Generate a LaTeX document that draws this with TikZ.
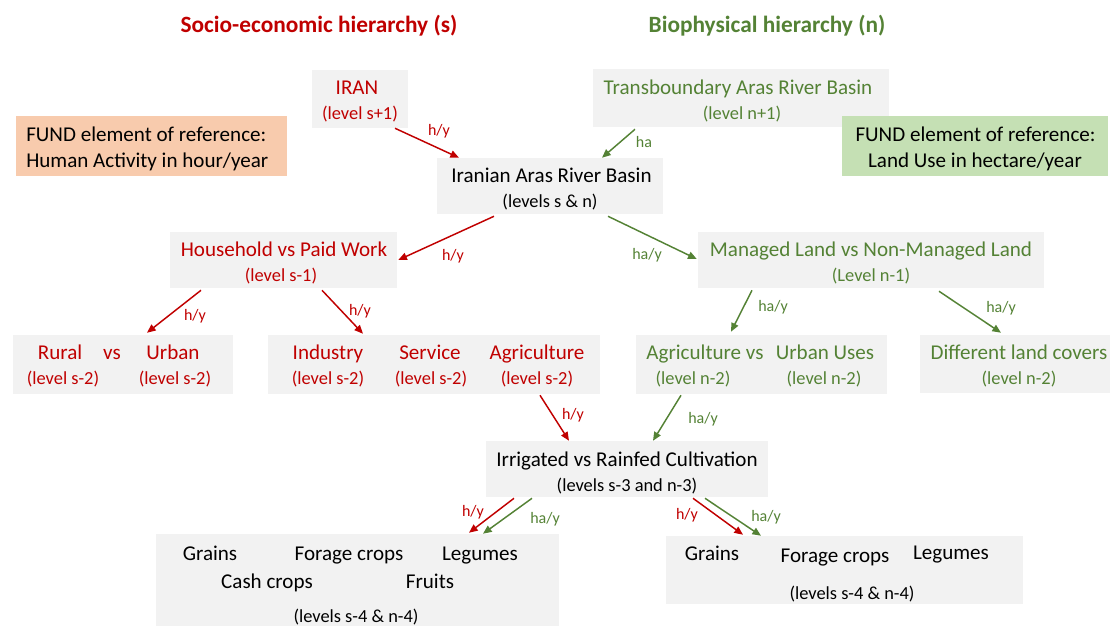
\documentclass[tikz,border=0pt]{standalone}
\usepackage{fontspec}
\setmainfont{Carlito}
\usetikzlibrary{calc,arrows.meta}
\definecolor{rd}{HTML}{C00000}
\definecolor{gn}{HTML}{548235}
\definecolor{boxgray}{HTML}{F2F2F2}
\definecolor{fundor}{HTML}{F8CBAD}
\definecolor{fundgn}{HTML}{C5E0B4}
\begin{document}
\begin{tikzpicture}[x=0.75pt,y=-0.75pt,
  box/.style 2 args={fill=boxgray,draw=none,inner sep=0pt,minimum width=#1*0.75pt,minimum height=#2*0.75pt},
  txt/.style={inner sep=0pt,text height=0.64em,text depth=0pt,yshift=-2.25pt,font=\fontsize{15.8}{18}\selectfont},
  lvl/.style={inner sep=0pt,text height=0.64em,text depth=0pt,yshift=-2.25pt,font=\fontsize{13.8}{16}\selectfont},
  lab/.style={inner sep=0pt,text height=0.64em,text depth=0pt,yshift=-1.5pt,font=\fontsize{12}{14}\selectfont},
  ttl/.style={inner sep=0pt,text height=0.64em,text depth=0pt,yshift=-3pt,font=\fontsize{17.5}{20}\selectfont\bfseries},
  arr/.style={line width=1.1pt,-{Triangle[length=6.5pt,width=5.5pt]}},
  ra/.style={arr,draw=rd},
  ga/.style={arr,draw=gn}]
\useasboundingbox (0,0) rectangle (1110,626);

% titles
\node[ttl,text=rd] (title1) at (319,24) {Socio-economic hierarchy (s)};
\node[ttl,text=gn] (title2) at (767,24) {Biophysical hierarchy (n)};

% boxes
\node[box={96}{58}] (iran) at (360,99) {};
\node[box={296}{58}] (trans) at (741,98) {};
\node[box={271}{60},fill=fundor] (fundL) at (151.5,146) {};
\node[box={266}{60},fill=fundgn] (fundR) at (975,146) {};
\node[box={226}{56}] (iaran) at (550,186) {};
\node[box={227}{56}] (house) at (283.5,260) {};
\node[box={346}{56}] (managed) at (871,260) {};
\node[box={220}{59}] (rural) at (123,364.5) {};
\node[box={332}{59}] (isa) at (434,364.5) {};
\node[box={251}{59}] (agurb) at (761.5,364.5) {};
\node[box={190}{58}] (diff) at (1015,364) {};
\node[box={282}{56}] (irr) at (627,469) {};
\node[box={403}{92}] (cropsL) at (357.5,580) {};
\node[box={357}{68}] (cropsR) at (844.5,570) {};

% texts
\node[txt,text=rd] (t-iran) at (357,87) {IRAN};
\node[lvl,text=rd] (l-iran) at (360,112) {(level s+1)};
\node[txt,text=gn] (t-trans) at (738,87) {Transboundary Aras River Basin};
\node[lvl,text=gn] (l-trans) at (742,112) {(level n+1)};
\node[txt,anchor=west] (t-fundL1) at (26,134) {FUND element of reference:};
\node[txt,anchor=west] (t-fundL2) at (26,160) {Human Activity in hour/year};
\node[txt] (t-fundR1) at (975.5,134) {FUND element of reference:};
\node[txt] (t-fundR2) at (975,160) {Land Use in hectare/year};
\node[txt] (t-iaran) at (551.5,175) {Iranian Aras River Basin};
\node[lvl] (l-iaran) at (550,200) {(levels s \& n)};
\node[txt,text=rd] (t-house) at (284,249) {Household vs Paid Work};
\node[lvl,text=rd] (l-house) at (281,274) {(level s-1)};
\node[txt,text=gn] (t-managed) at (871,249) {Managed Land vs Non-Managed Land};
\node[lvl,text=gn] (l-managed) at (871,274) {(Level n-1)};
\node[txt,text=rd] (t-rural) at (60,352) {Rural};
\node[txt,text=rd] (t-vs) at (112,352) {vs};
\node[txt,text=rd] (t-urban) at (173,352) {Urban};
\node[lvl,text=rd] (l-rural) at (63,377) {(level s-2)};
\node[lvl,text=rd] (l-urban) at (175,377) {(level s-2)};
\node[txt,text=rd] (t-ind) at (328,352) {Industry};
\node[txt,text=rd] (t-serv) at (430,352) {Service};
\node[txt,text=rd] (t-agr) at (537,352) {Agriculture};
\node[lvl,text=rd] (l-ind) at (328,377) {(level s-2)};
\node[lvl,text=rd] (l-serv) at (431,377) {(level s-2)};
\node[lvl,text=rd] (l-agr) at (537,377) {(level s-2)};
\node[txt,text=gn] (t-agvs) at (705,352) {Agriculture vs};
\node[txt,text=gn] (t-uu) at (825,352) {Urban Uses};
\node[lvl,text=gn] (l-agvs) at (693,377) {(level n-2)};
\node[lvl,text=gn] (l-uu) at (824,377) {(level n-2)};
\node[txt,text=gn] (t-diff) at (1019,352) {Different land covers};
\node[lvl,text=gn] (l-diff) at (1019,377) {(level n-2)};
\node[txt] (t-irr) at (627,459) {Irrigated vs Rainfed Cultivation};
\node[lvl] (l-irr) at (627,484) {(levels s-3 and n-3)};
\node[txt] (t-gr1) at (210,553) {Grains};
\node[txt] (t-fc1) at (349,553) {Forage crops};
\node[txt] (t-lg1) at (480,553) {Legumes};
\node[txt] (t-cc1) at (267,581) {Cash crops};
\node[txt] (t-fr1) at (430,581) {Fruits};
\node[lvl] (l-crL) at (356,615) {(levels s-4 \& n-4)};
\node[txt] (t-gr2) at (712,553) {Grains};
\node[txt] (t-fc2) at (835,555) {Forage crops};
\node[txt] (t-lg2) at (951,552) {Legumes};
\node[lvl] (l-crR) at (852,592) {(levels s-4 \& n-4)};

% arrows
\draw[ra] ($(iran.south)+(35,0)$) -- ($(iaran.north)+(-91,0)$);
\draw[ga] ($(trans.south)+(-106,2)$) -- ($(iaran.north)+(52,0)$);
\draw[ra] ($(iaran.south)+(-56,2)$) -- ($(house.east)+(1,0)$);
\draw[ga] ($(iaran.south)+(58,2)$) -- ($(managed.west)+(-1,-1)$);
\draw[ra] ($(house.south)+(-82.5,2)$) -- ($(rural.north)+(24,-2)$);
\draw[ra] ($(house.south)+(38.5,2)$) -- ($(isa.north)+(-71,-1)$);
\draw[ga] ($(managed.south)+(-119,2)$) -- ($(agurb.north)+(-30.5,-3)$);
\draw[ga] ($(managed.south)+(68,3)$) -- ($(diff.north)+(-14,-2)$);
\draw[ra] ($(isa.south)+(106,1)$) -- ($(irr.north)+(-58,0)$);
\draw[ga] ($(agurb.south)+(-80.5,1)$) -- ($(irr.north)+(26,0)$);
\draw[ra] ($(irr.south)+(-113,1)$) -- ($(cropsL.north)+(111.5,-1)$);
\draw[ga] ($(irr.south)+(-95,1)$) -- ($(cropsL.north)+(125.5,0)$);
\draw[ra] ($(irr.south)+(66,1)$) -- ($(cropsR.north)+(-101.5,-1)$);
\draw[ga] ($(irr.south)+(78,1)$) -- ($(cropsR.north)+(-83.5,0)$);

% arrow labels
\node[lab,text=rd] (a1) at (439,129) {h/y};
\node[lab,text=gn] (a2) at (644,141) {ha};
\node[lab,text=rd] (a3) at (453,254) {h/y};
\node[lab,text=gn] (a4) at (647,253) {ha/y};
\node[lab,text=rd] (a5) at (195,314) {h/y};
\node[lab,text=rd] (a6) at (360,309) {h/y};
\node[lab,text=gn] (a7) at (773,305) {ha/y};
\node[lab,text=gn] (a8) at (1001,306) {ha/y};
\node[lab,text=rd] (a9) at (573,413) {h/y};
\node[lab,text=gn] (a10) at (703,417) {ha/y};
\node[lab,text=rd] (a11) at (473,510) {h/y};
\node[lab,text=gn] (a12) at (545,517) {ha/y};
\node[lab,text=rd] (a13) at (687,513) {h/y};
\node[lab,text=gn] (a14) at (766,515) {ha/y};
\end{tikzpicture}
\end{document}
